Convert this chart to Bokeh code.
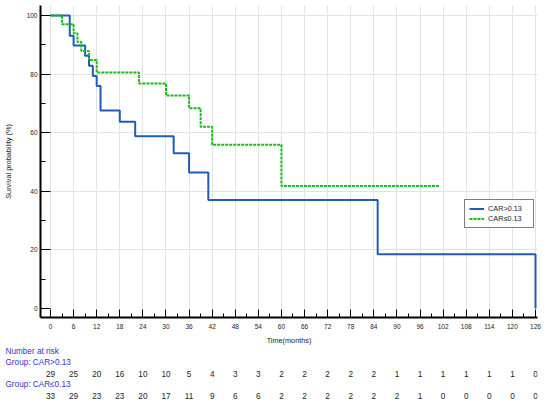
from bokeh.plotting import figure
from bokeh.layouts import column
from bokeh.models import (Range1d, SingleIntervalTicker, FixedTicker, Legend, LegendItem,
                          ColumnDataSource)
from bokeh.core.properties import value
from bokeh.embed import file_html
from bokeh.resources import INLINE

# ---- data ----
hi_months = [0, 5, 6, 9, 10, 11, 12, 13, 18, 22, 32, 36, 41, 85, 126, 126]
hi_surv = [100, 93.1, 89.7, 86.2, 82.8, 79.3, 75.9, 67.6, 63.7, 58.8, 53.0, 46.4, 37.0, 18.5, 18.5, 0]
lo_months = [0, 3, 6, 7, 8, 10, 12, 23, 30, 36, 39, 42, 60, 101]
lo_surv = [100, 97.0, 93.9, 90.9, 87.9, 84.8, 80.5, 76.8, 72.7, 68.3, 62.0, 55.9, 41.8, 41.8]

risk_months = list(range(0, 127, 6))
risk_hi = [29, 25, 20, 16, 10, 10, 5, 4, 3, 3, 2, 2, 2, 2, 2, 1, 1, 1, 1, 1, 1, 0]
risk_lo = [33, 29, 23, 23, 20, 17, 11, 9, 6, 6, 2, 2, 2, 2, 2, 2, 1, 0, 0, 0, 0, 0]

label_hi = "CAR>0.13"
label_lo = "CAR\u22640.13"
table_titles = ["Number at risk", "Group: " + label_hi, "Group: " + label_lo]

BLUE = "#1f5cb8"
GREEN = "#1cb81c"
TXTBLUE = "#3434cc"
FONT = "Liberation Sans"

W = 545
p = figure(width=W, height=347, output_backend="svg", toolbar_location=None,
           x_range=Range1d(-2.598, 126.52), y_range=Range1d(-3.04, 103.38),
           min_border_left=40, min_border_right=8, min_border_top=5, min_border_bottom=27)
p.outline_line_color = None
p.frame_align = False

# axes
xa = p.xaxis[0]
xa.ticker = SingleIntervalTicker(interval=6, num_minor_ticks=2)
xa.axis_label = "Time(months)"
xa.axis_line_width = 2
xa.axis_line_color = "black"
xa.major_tick_in = 8
xa.major_tick_out = 0
xa.minor_tick_in = 4
xa.minor_tick_out = 0
xa.major_tick_line_color = "black"
xa.minor_tick_line_color = "black"
xa.major_label_text_font = FONT
xa.major_label_text_font_size = "6.5px"
xa.major_label_text_color = "#222222"
xa.major_label_standoff = 6
xa.axis_label_text_font = FONT
xa.axis_label_text_font_size = "7.3px"
xa.axis_label_text_font_style = "normal"
xa.axis_label_text_color = "#222222"
xa.axis_label_standoff = 4

ya = p.yaxis[0]
ya.ticker = SingleIntervalTicker(interval=20, num_minor_ticks=2)
ya.axis_label = "Survival probability (%)"
ya.axis_line_width = 2
ya.axis_line_color = "black"
ya.major_tick_in = 10
ya.major_tick_out = 0
ya.minor_tick_in = 5
ya.minor_tick_out = 0
ya.major_tick_line_color = "black"
ya.minor_tick_line_color = "black"
ya.major_label_text_font = FONT
ya.major_label_text_font_size = "6.5px"
ya.major_label_text_color = "#222222"
ya.major_label_standoff = 3
ya.axis_label_text_font = FONT
ya.axis_label_text_font_size = "7.3px"
ya.axis_label_text_font_style = "normal"
ya.axis_label_text_color = "#222222"
ya.axis_label_standoff = 11

p.xgrid.ticker = SingleIntervalTicker(interval=6)
p.ygrid.ticker = FixedTicker(ticks=[20, 40, 60, 80, 100])
p.xgrid.grid_line_color = "#e3e3e3"
p.ygrid.grid_line_color = "#e3e3e3"

# curves
r_hi = p.step(hi_months, hi_surv, mode="after", line_color=BLUE, line_width=2)
r_lo = p.step(lo_months, lo_surv, mode="after", line_color=GREEN, line_width=2, line_dash="3 1")

leg = Legend(items=[LegendItem(label=label_hi, renderers=[r_hi]),
                    LegendItem(label=label_lo, renderers=[r_lo])],
             location=(424, 89))
leg.border_line_color = "black"
leg.border_line_width = 1
leg.background_fill_alpha = 1
leg.label_text_font = FONT
leg.label_text_font_size = "7.3px"
leg.label_text_color = "#222222"
leg.glyph_width = 15
leg.glyph_height = 9
leg.label_height = 9
leg.label_width = 41
leg.label_standoff = 4
leg.spacing = 1
leg.padding = 4
leg.margin = 0
p.add_layout(leg, "center")

# ---- number at risk table (same horizontal scale, frame extended to the left edge) ----
t = figure(width=W, height=53, output_backend="svg", toolbar_location=None,
           x_range=Range1d(-12.99, 126.52), y_range=Range1d(0, 53),
           min_border_left=0, min_border_right=8, min_border_top=0, min_border_bottom=0,
           x_axis_location=None, y_axis_location=None)
t.outline_line_color = None
t.frame_align = False
t.xgrid.visible = False
t.ygrid.visible = False

title_src = ColumnDataSource(dict(x=[-11.69] * 3, y=[49, 38, 16], t=table_titles))
t.text(x="x", y="y", text="t", source=title_src, text_color=TXTBLUE,
       text_font=value(FONT), text_font_size="8.2px", text_align="left", text_baseline="middle")

for counts, yy in ((risk_hi, 27), (risk_lo, 5)):
    src = ColumnDataSource(dict(x=risk_months, y=[yy] * len(risk_months), t=[str(v) for v in counts]))
    t.text(x="x", y="y", text="t", source=src, text_color="#222222",
           text_font=value(FONT), text_font_size="8.2px", text_align="center", text_baseline="middle")

layout = column(p, t, spacing=0)
open("out.html", "w").write(file_html(layout, INLINE))
